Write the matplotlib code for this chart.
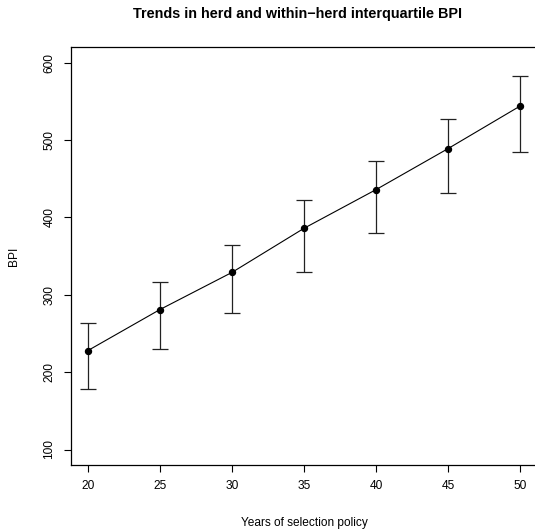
import matplotlib.pyplot as plt

# Trends in herd BPI with interquartile range
years = [20, 25, 30, 35, 40, 45, 50]
bpi_mean = [228, 281, 329, 386, 436, 489, 544]
bpi_lower = [178, 230, 276, 330, 380, 432, 485]
bpi_upper = [263, 317, 365, 422, 473, 527, 583]
yticks = [100, 200, 300, 400, 500, 600]

plt.rcParams['font.family'] = ['Liberation Sans', 'DejaVu Sans']

W, H = 535, 531
fig = plt.figure(figsize=(W / 100, H / 100), dpi=100)
# axes box in pixels: left 70.7, right 537.3 (cut off), top 47.3, bottom 465
ax = fig.add_axes([70.7 / W, (H - 465) / H, 466.6 / W, 417.7 / H])

err_lo = [m - lo for m, lo in zip(bpi_mean, bpi_lower)]
err_hi = [hi - m for m, hi in zip(bpi_mean, bpi_upper)]
ax.errorbar(years, bpi_mean, yerr=[err_lo, err_hi], fmt='none', ecolor='#222222',
            elinewidth=0.9, capsize=5.8, capthick=0.9)
ax.plot(years, bpi_mean, color='black', lw=0.8, marker='o', ms=4.3)

ax.set_xlim(18.8, 51.2)
ax.set_ylim(80, 620)
ax.set_xticks(years)
ax.set_yticks(yticks)
ax.tick_params(length=5, width=0.8, labelsize=8.6, pad=6)
for lab in ax.get_yticklabels():
    lab.set_rotation(90)
    lab.set_va('center')
for sp in ax.spines.values():
    sp.set_linewidth(0.9)
# the box's right edge falls outside the image in the reference
ax.spines['right'].set_visible(False)

fig.text(297.5 / W, 1 - 14 / H, 'Trends in herd and within\u2212herd interquartile BPI',
         ha='center', va='center', fontsize=10.4, fontweight='bold')
fig.text(304 / W, 1 - 522.7 / H, 'Years of selection policy', ha='center', va='center',
         fontsize=8.6)
fig.text(14 / W, 1 - 256 / H, 'BPI', ha='center', va='center', rotation=90, fontsize=8.6)

fig.savefig('out.png', dpi=100)
